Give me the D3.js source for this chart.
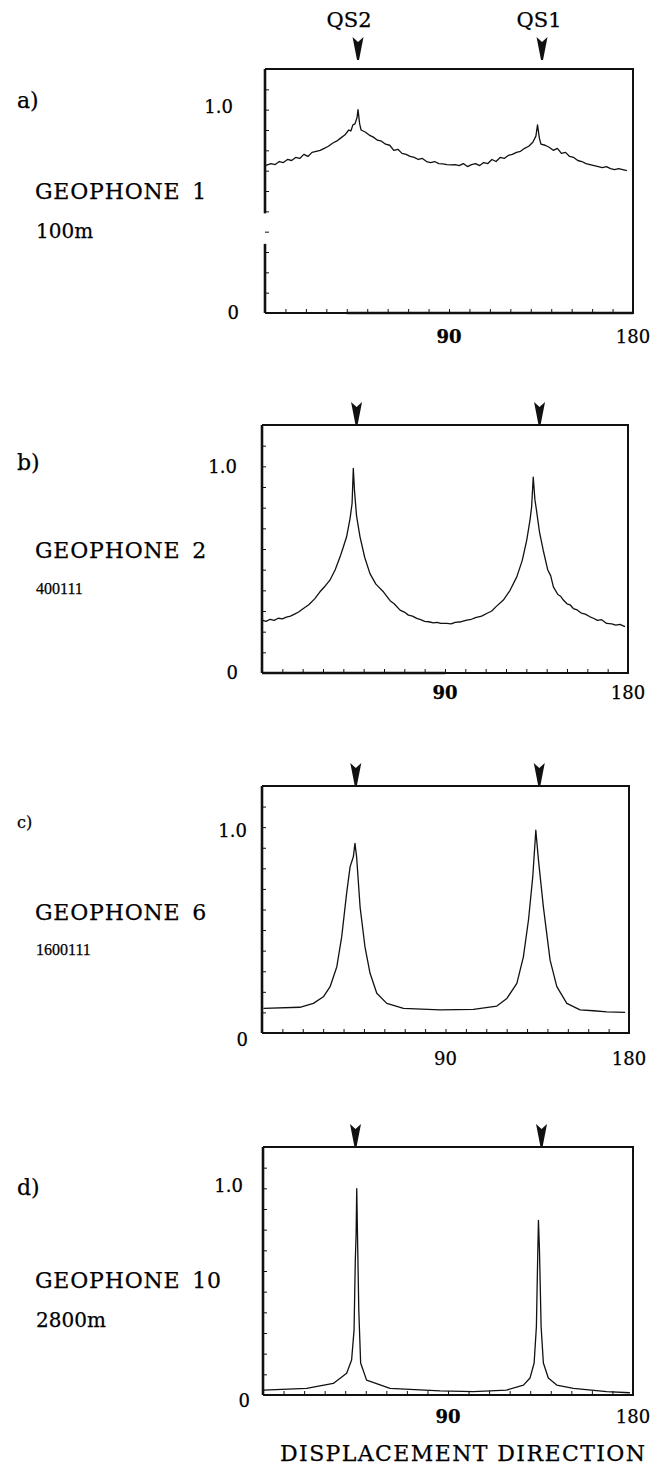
<!DOCTYPE html>
<html>
<head>
<meta charset="utf-8">
<script src="https://cdn.jsdelivr.net/npm/d3@7"></script>
<style>
  body { margin: 0; background: #fff; }
  svg { display: block; }
  text { font-family: "DejaVu Serif", serif; fill: #000; stroke: #000; stroke-width: 0.25; }
  .curve { fill: none; stroke: #111; stroke-width: 1.3; stroke-linejoin: round; }
  .frame { fill: none; stroke: #111; stroke-width: 2; }
  .yline { stroke: #111; stroke-width: 2.6; }
  .heavy { stroke: #111; stroke-width: 2.6; }
  .axis .domain { display: none; }
  .axis line { stroke: #111; stroke-width: 1; }
</style>
</head>
<body>
<svg id="chart" width="667" height="1466"></svg>
<script>
// panel texts
const panelIds = ['a)', 'b)', 'c)', 'd)'];
const geophones = ['GEOPHONE 1', 'GEOPHONE 2', 'GEOPHONE 6', 'GEOPHONE 10'];
const depths = ['100m', '400111', '1600111', '2800m'];
const modeNames = ['QS2', 'QS1'];
const xTickLabels = [90, 180];
const yTickLabels = [0, 1];
const xLabel = 'DISPLACEMENT  DIRECTION';

// arrow directions (degrees) above each panel
const arrowDirs = [[45.5, 135.5], [46.5, 136.5], [46, 136], [45, 135.5]];

// [direction (deg), normalized amplitude]
const seriesA = [
  [0, 0.725], [3, 0.735], [5, 0.73], [7, 0.745], [9, 0.74], [11, 0.755], [13, 0.75], [15, 0.765],
  [17, 0.76], [19, 0.78], [21, 0.77], [23, 0.79], [25, 0.795], [27, 0.8], [29, 0.81], [31, 0.82],
  [33, 0.835], [35, 0.845], [37, 0.86], [39, 0.875], [41, 0.9], [42, 0.895], [43, 0.925], [44, 0.93],
  [45, 0.96], [45.5, 1.0], [46.3, 0.93], [47, 0.9], [49, 0.89], [51, 0.875], [53, 0.865], [55, 0.85],
  [57, 0.845], [59, 0.83], [61, 0.825], [63, 0.8], [65, 0.805], [67, 0.785], [69, 0.78], [71, 0.77],
  [73, 0.765], [75, 0.755], [77, 0.76], [79, 0.745], [81, 0.74], [83, 0.745], [85, 0.735], [87, 0.733],
  [89, 0.73], [91, 0.728], [93, 0.73], [95, 0.725], [97, 0.735], [99, 0.72], [101, 0.73], [103, 0.735],
  [105, 0.725], [107, 0.74], [109, 0.735], [111, 0.755], [113, 0.745], [115, 0.765], [117, 0.76],
  [119, 0.775], [121, 0.78], [123, 0.79], [125, 0.795], [127, 0.81], [129, 0.82], [131, 0.84],
  [132.5, 0.87], [133.3, 0.925], [134.2, 0.86], [135, 0.83], [137, 0.825], [139, 0.815], [141, 0.8],
  [143, 0.81], [145, 0.785], [147, 0.79], [149, 0.77], [151, 0.765], [153, 0.75], [155, 0.745],
  [157, 0.735], [159, 0.73], [161, 0.725], [163, 0.72], [165, 0.715], [167, 0.72], [169, 0.71],
  [171, 0.705], [173, 0.71], [175, 0.705], [177, 0.7]
];

const seriesB = [
  [0, 0.256], [2, 0.25], [4, 0.26], [6, 0.255], [8, 0.265], [10, 0.262], [12, 0.27], [14, 0.275],
  [16, 0.285], [18, 0.295], [20, 0.31], [23, 0.33], [26, 0.36], [28.5, 0.393], [31, 0.42], [33.4, 0.449],
  [36, 0.5], [38.4, 0.562], [40, 0.61], [41.6, 0.659], [43.3, 0.747], [44.3, 0.82], [44.9, 0.99],
  [45.5, 0.88], [46.5, 0.76], [48.2, 0.659], [50.5, 0.56], [53.1, 0.481], [56, 0.43], [59.7, 0.393],
  [63, 0.35], [65, 0.335], [67.9, 0.304], [70, 0.295], [72, 0.28], [74, 0.275], [76.1, 0.264],
  [78, 0.258], [80, 0.25], [82, 0.248], [84.3, 0.243], [86, 0.245], [88, 0.24], [90.9, 0.24],
  [93, 0.238], [95, 0.245], [98, 0.248], [100.7, 0.256], [103, 0.26], [105, 0.268], [108, 0.275],
  [110.5, 0.288], [113, 0.3], [115, 0.32], [118.7, 0.353], [122, 0.4], [125.3, 0.465], [128, 0.545],
  [130.2, 0.643], [131.8, 0.74], [132.6, 0.803], [133.4, 0.948], [134.2, 0.84], [135, 0.787],
  [136.5, 0.68], [138.3, 0.594], [140.5, 0.5], [142, 0.47], [143.3, 0.417], [145.5, 0.38],
  [147, 0.37], [148.2, 0.353], [150, 0.335], [151.5, 0.33], [153.1, 0.312], [155, 0.305], [157, 0.29],
  [159, 0.285], [161.3, 0.272], [163, 0.265], [165, 0.255], [167, 0.258], [169.5, 0.24], [172, 0.238],
  [174, 0.232], [176, 0.235], [178.5, 0.224]
];

const seriesC = [
  [0.7, 0.12], [18.6, 0.125], [25.2, 0.144], [30.1, 0.176], [33.4, 0.225], [36.7, 0.322], [39.1, 0.468],
  [41.5, 0.678], [43.2, 0.807], [44.8, 0.856], [45.6, 0.921], [46.4, 0.856], [48.1, 0.613], [50.5, 0.419],
  [53, 0.29], [56.3, 0.193], [61.2, 0.144], [69.4, 0.12], [87.4, 0.112], [103.7, 0.115], [115.2, 0.131],
  [120.1, 0.168], [125, 0.241], [128.2, 0.37], [130.7, 0.549], [132.8, 0.759], [134.3, 0.985],
  [135.6, 0.84], [138, 0.613], [141.3, 0.354], [144.6, 0.225], [149.5, 0.144], [156, 0.112],
  [162.6, 0.108], [169.1, 0.103], [178.1, 0.1]
];

const seriesD = [
  [0.2, 0.024], [21.2, 0.032], [34.2, 0.056], [40.7, 0.105], [43.1, 0.169], [44.3, 0.314], [44.9, 0.65],
  [45.3, 0.781], [45.6, 0.999], [46.1, 0.7], [46.6, 0.41], [47.5, 0.155], [50.4, 0.072], [61.8, 0.032],
  [86.1, 0.02], [102.3, 0.016], [118.5, 0.024], [126.7, 0.048], [129.9, 0.082], [131.9, 0.155],
  [133, 0.33], [133.6, 0.65], [134, 0.845], [134.5, 0.7], [135.3, 0.33], [136.4, 0.155], [138.8, 0.082],
  [142.9, 0.048], [151, 0.032], [167.2, 0.016], [178.5, 0.011]
];

const series = [seriesA, seriesB, seriesC, seriesD];

// page layout of each panel (pixels)
const layout = [
  {left: 265, right: 633, top: 69, bottom: 313, idY: 108, geoY: 199, depthY: 238, idSize: 22,
   depthFont: '"DejaVu Serif"', depthSize: 20, arrowGap: 9, axisGap: [0.49, 0.34],
   oneX: 233, oneDy: 3, zeroX: 239, zeroDy: 6, xLabY: 343, bold90: true, heavyX: [40, 180]},
  {left: 262, right: 628, top: 425, bottom: 673, idY: 470, geoY: 558, depthY: 594, idSize: 22,
   depthFont: '"Liberation Serif"', depthSize: 16, arrowGap: 0, axisGap: null,
   oneX: 237, oneDy: 7, zeroX: 238, zeroDy: 6, xLabY: 699, bold90: true, heavyX: [0, 90]},
  {left: 262, right: 629, top: 786, bottom: 1033, idY: 828, geoY: 920, depthY: 955, idSize: 16,
   depthFont: '"Liberation Serif"', depthSize: 16, arrowGap: 0, axisGap: null,
   oneX: 247, oneDy: 10, zeroX: 248, zeroDy: 13, xLabY: 1065, bold90: false, heavyX: null},
  {left: 263, right: 633, top: 1147, bottom: 1395, idY: 1195, geoY: 1288, depthY: 1327, idSize: 22,
   depthFont: '"DejaVu Serif"', depthSize: 20, arrowGap: 0, axisGap: null,
   oneX: 243, oneDy: 4, zeroX: 250, zeroDy: 12, xLabY: 1423, bold90: true, heavyX: null}
];

const svg = d3.select('#chart');

function drawPanel(i) {
  const L = layout[i];
  const x = d3.scaleLinear().domain([0, 180]).range([L.left, L.right]);
  const y = d3.scaleLinear().domain([0, 1.2]).range([L.bottom, L.top]);
  const g = svg.append('g');

  // ticks, inward
  g.append('g')
    .attr('class', 'axis')
    .attr('transform', `translate(0,${L.bottom})`)
    .call(d3.axisBottom(x).tickValues(d3.range(10, 180, 10)).tickSize(-4).tickFormat(''));
  g.append('g')
    .attr('class', 'axis')
    .attr('transform', `translate(${L.left},0)`)
    .call(d3.axisLeft(y).tickValues(d3.range(1, 12).map((k) => k / 10)).tickSize(-4).tickFormat(''));

  // frame: top, right, bottom
  g.append('path')
    .attr('class', 'frame')
    .attr('d', `M${L.left},${L.top}H${L.right}V${L.bottom}H${L.left}`);

  // left axis line (panel a has a break in it)
  const segs = L.axisGap ? [[0, L.axisGap[1]], [L.axisGap[0], 1.2]] : [[0, 1.2]];
  g.selectAll('.yline')
    .data(segs)
    .join('line')
    .attr('class', 'yline')
    .attr('x1', L.left)
    .attr('x2', L.left)
    .attr('y1', (s) => y(s[0]))
    .attr('y2', (s) => y(s[1]));

  if (L.heavyX) {
    g.append('line')
      .attr('class', 'heavy')
      .attr('x1', x(L.heavyX[0]))
      .attr('x2', x(L.heavyX[1]))
      .attr('y1', L.bottom)
      .attr('y2', L.bottom);
  }

  const line = d3.line().x((d) => x(d[0])).y((d) => y(d[1]));
  g.append('path').attr('class', 'curve').attr('d', line(series[i]));

  // arrows marking the qS directions
  g.selectAll('.arrow')
    .data(arrowDirs[i])
    .join('path')
    .attr('class', 'arrow')
    .attr('transform', (d) => `translate(${x(d)},${L.top - L.arrowGap})`)
    .attr('d', 'M-5.5,-23 L0,-18 L5.5,-23 L1,0 L-1,0 Z')
    .attr('fill', '#111');

  if (i === 0) {
    g.selectAll('.mode')
      .data(modeNames)
      .join('text')
      .attr('class', 'mode')
      .attr('x', (d, k) => x(arrowDirs[0][k]) - (k === 0 ? 9 : 3))
      .attr('y', 27)
      .attr('text-anchor', 'middle')
      .attr('font-size', 21)
      .text((d) => d);
  }

  // y labels
  g.selectAll('.ylab')
    .data(yTickLabels)
    .join('text')
    .attr('class', 'ylab')
    .attr('x', (d) => (d === 0 ? L.zeroX : L.oneX))
    .attr('y', (d) => y(d) + (d === 0 ? L.zeroDy : L.oneDy))
    .attr('text-anchor', 'end')
    .attr('font-size', 18)
    .text((d) => (d === 0 ? '0' : d.toFixed(1)));

  // x labels
  g.selectAll('.xlab')
    .data(xTickLabels)
    .join('text')
    .attr('class', 'xlab')
    .attr('x', (d) => x(d))
    .attr('y', L.xLabY)
    .attr('text-anchor', 'middle')
    .attr('font-size', 18)
    .attr('font-weight', (d) => (d === 90 && L.bold90 ? 'bold' : 'normal'))
    .text((d) => d);

  // left-hand captions
  g.append('text')
    .attr('x', 17)
    .attr('y', L.idY)
    .attr('font-size', L.idSize)
    .text(panelIds[i]);
  g.append('text')
    .attr('x', 35)
    .attr('y', L.geoY)
    .attr('font-size', 22)
    .attr('letter-spacing', 0.8)
    .attr('word-spacing', 4)
    .text(geophones[i]);
  g.append('text')
    .attr('x', 36)
    .attr('y', L.depthY)
    .attr('font-size', L.depthSize)
    .style('font-family', L.depthFont)
    .text(depths[i]);
}

for (let i = 0; i < layout.length; i++) {
  drawPanel(i);
}

svg.append('text')
  .attr('x', 280)
  .attr('y', 1461)
  .attr('font-size', 22)
  .attr('textLength', 365)
  .attr('lengthAdjust', 'spacing')
  .text(xLabel);
</script>
</body>
</html>
